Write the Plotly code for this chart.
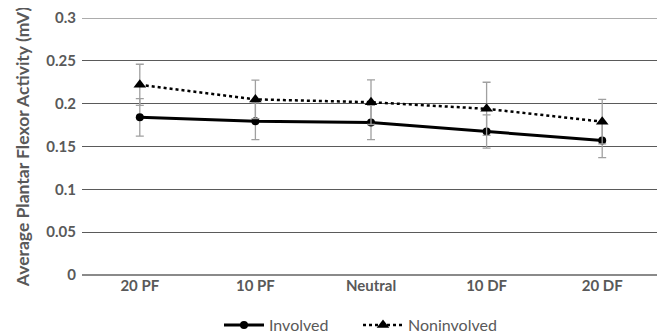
import plotly.graph_objects as go

categories = ["20 PF", "10 PF", "Neutral", "10 DF", "20 DF"]
involved = [0.184, 0.1795, 0.178, 0.1675, 0.157]
involved_err = [0.022, 0.0215, 0.020, 0.0195, 0.020]
noninvolved = [0.222, 0.205, 0.2017, 0.194, 0.179]
noninvolved_err = [0.024, 0.0225, 0.026, 0.031, 0.026]
y_ticks = [0, 0.05, 0.1, 0.15, 0.2, 0.25, 0.3]
y_tick_text = ["0", "0.05", "0.1", "0.15", "0.2", "0.25", "0.3"]

font_family = "Lato, Open Sans, sans-serif"
txt = "#595959"
grid = "#5a5a5a"

fig = go.Figure()
fig.add_trace(go.Scatter(
    x=categories, y=involved, name="Involved", mode="lines+markers",
    line=dict(color="black", width=3),
    marker=dict(symbol="circle", size=8, color="black"),
    error_y=dict(type="data", array=involved_err, color="#a0a0a0", thickness=1.3, width=4),
))
fig.add_trace(go.Scatter(
    x=categories, y=noninvolved, name="Noninvolved", mode="lines+markers",
    line=dict(color="black", width=2.5, dash="dot"),
    marker=dict(symbol="triangle-up", size=11, color="black"),
    error_y=dict(type="data", array=noninvolved_err, color="#a0a0a0", thickness=1.3, width=4),
))

# top gridline (at the upper edge of the axis range)
fig.add_hline(y=y_ticks[-1], line=dict(color=grid, width=1), layer="below")

# the page has an 8px body margin, so the figure is 8px smaller on each axis
fig.update_layout(
    width=657, height=326,
    margin=dict(l=74, r=5, t=10, b=59, autoexpand=False),
    plot_bgcolor="white", paper_bgcolor="white",
    showlegend=True,
    legend=dict(orientation="h", x=211 / 657, xanchor="left", xref="container",
                y=9 / 326, yanchor="middle", yref="container",
                itemwidth=40, entrywidth=84, entrywidthmode="pixels",
                font=dict(family=font_family, size=16, color=txt)),
    xaxis=dict(range=[-0.5, 4.5], showgrid=False, showline=False, ticks="",
               tickfont=dict(family=font_family, size=15, color=txt, weight="bold")),
    yaxis=dict(range=[0, 0.3], tickvals=y_ticks, ticktext=y_tick_text,
               showgrid=True, gridcolor=grid, gridwidth=1,
               zeroline=True, zerolinecolor="#8a8a8a", zerolinewidth=2,
               showline=False, ticks="", ticklabelstandoff=5,
               tickfont=dict(family=font_family, size=15, color=txt, weight="bold"),
               title=dict(text="Average Plantar Flexor Activity (mV)", standoff=12,
                          font=dict(family=font_family, size=17.5, color=txt, weight="bold"))),
)

fig.write_html("out.html")
